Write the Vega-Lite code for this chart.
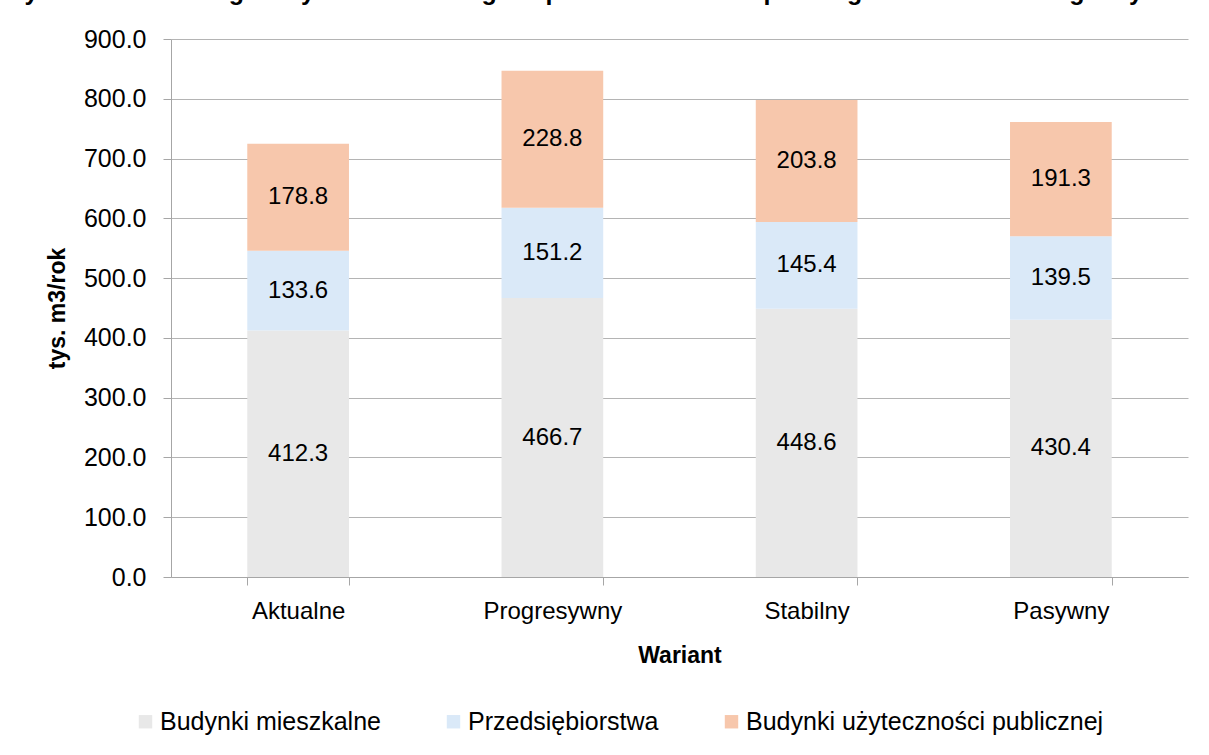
{
  "$schema": "https://vega.github.io/schema/vega-lite/v6.json",
  "autosize": "none",
  "width": 1017,
  "height": 538,
  "padding": {"left": 171, "top": 39, "right": 21, "bottom": 178},
  "background": "white",
  "title": {
    "text": "Rysunek 24. Szczegółowy bilans rocznego zapotrzebowania na paliwa gazowe na terenie gminy.",
    "anchor": "start",
    "frame": "bounds",
    "font": "Liberation Sans",
    "fontSize": 25,
    "fontWeight": "bold",
    "color": "#000000",
    "baseline": "alphabetic",
    "dx": -40,
    "dy": 2
  },
  "data": {
    "values": [
      {"wariant": "Aktualne", "kategoria": "Budynki mieszkalne", "wartosc": 412.3},
      {"wariant": "Aktualne", "kategoria": "Przedsiębiorstwa", "wartosc": 133.6},
      {"wariant": "Aktualne", "kategoria": "Budynki użyteczności publicznej", "wartosc": 178.8},
      {"wariant": "Progresywny", "kategoria": "Budynki mieszkalne", "wartosc": 466.7},
      {"wariant": "Progresywny", "kategoria": "Przedsiębiorstwa", "wartosc": 151.2},
      {"wariant": "Progresywny", "kategoria": "Budynki użyteczności publicznej", "wartosc": 228.8},
      {"wariant": "Stabilny", "kategoria": "Budynki mieszkalne", "wartosc": 448.6},
      {"wariant": "Stabilny", "kategoria": "Przedsiębiorstwa", "wartosc": 145.4},
      {"wariant": "Stabilny", "kategoria": "Budynki użyteczności publicznej", "wartosc": 203.8},
      {"wariant": "Pasywny", "kategoria": "Budynki mieszkalne", "wartosc": 430.4},
      {"wariant": "Pasywny", "kategoria": "Przedsiębiorstwa", "wartosc": 139.5},
      {"wariant": "Pasywny", "kategoria": "Budynki użyteczności publicznej", "wartosc": 191.3}
    ]
  },
  "transform": [
    {"calculate": "indexof(['Budynki mieszkalne','Przedsiębiorstwa','Budynki użyteczności publicznej'], datum.kategoria)", "as": "kolej"},
    {"stack": "wartosc", "groupby": ["wariant"], "sort": [{"field": "kolej", "order": "ascending"}], "as": ["y0", "y1"]},
    {"calculate": "(datum.y0 + datum.y1) / 2", "as": "ymid"}
  ],
  "encoding": {
    "x": {
      "field": "wariant",
      "type": "nominal",
      "sort": ["Aktualne", "Progresywny", "Stabilny", "Pasywny"],
      "scale": {"paddingInner": 0.6, "paddingOuter": 0.3},
      "axis": {
        "title": "Wariant",
        "labelAngle": 0,
        "tickBand": "extent",
        "tickSize": 8,
        "tickColor": "#a6a6a6",
        "domainColor": "#a6a6a6",
        "labelFont": "Liberation Sans",
        "labelFontSize": 24,
        "labelColor": "#000000",
        "labelPadding": 14,
        "titleFont": "Liberation Sans",
        "titleFontSize": 23,
        "titleFontWeight": "bold",
        "titleColor": "#000000",
        "titlePadding": 21,
        "grid": false
      }
    }
  },
  "layer": [
    {
      "mark": {"type": "bar"},
      "encoding": {
        "y": {
          "field": "y0",
          "type": "quantitative",
          "scale": {"domain": [0, 900], "nice": false},
          "axis": {
            "title": "tys. m3/rok",
            "values": [0, 100, 200, 300, 400, 500, 600, 700, 800, 900],
            "format": ".1f",
            "grid": true,
            "gridColor": "#b4b4b4",
            "domainColor": "#a6a6a6",
            "tickColor": "#a6a6a6",
            "tickSize": 8,
            "labelFont": "Liberation Sans",
            "labelFontSize": 25,
            "labelColor": "#000000",
            "labelPadding": 17,
            "titleFont": "Liberation Sans",
            "titleFontSize": 23,
            "titleFontWeight": "bold",
            "titleColor": "#000000",
            "titlePadding": 14
          }
        },
        "y2": {"field": "y1"},
        "color": {
          "field": "kategoria",
          "type": "nominal",
          "sort": ["Budynki mieszkalne", "Przedsiębiorstwa", "Budynki użyteczności publicznej"],
          "scale": {
            "domain": ["Budynki mieszkalne", "Przedsiębiorstwa", "Budynki użyteczności publicznej"],
            "range": ["#e8e8e8", "#dae9f8", "#f7c7ac"]
          },
          "legend": {
            "title": null,
            "orient": "none",
            "direction": "horizontal",
            "legendX": -38,
            "legendY": 670,
            "symbolType": "square",
            "symbolSize": 180,
            "symbolStrokeWidth": 0,
            "labelFont": "Liberation Sans",
            "labelFontSize": 25,
            "labelLimit": 0,
            "labelColor": "#000000",
            "labelOffset": 2,
            "columnPadding": 60
          }
        }
      }
    },
    {
      "mark": {"type": "text", "font": "Liberation Sans", "fontSize": 24, "color": "#000000", "baseline": "middle"},
      "encoding": {
        "y": {"field": "ymid", "type": "quantitative"},
        "text": {"field": "wartosc", "type": "quantitative", "format": ".1f"}
      }
    }
  ],
  "config": {
    "view": {"stroke": null}
  }
}
